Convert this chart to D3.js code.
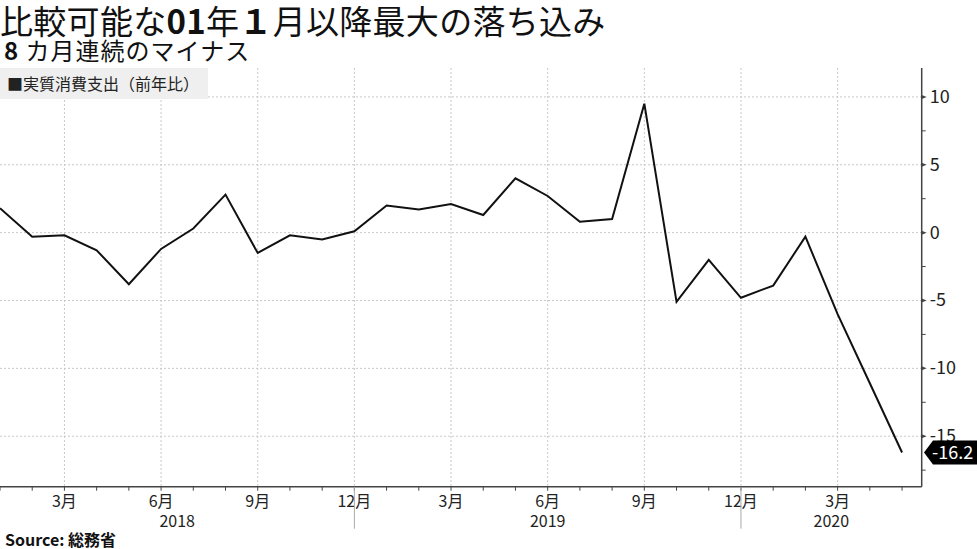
<!DOCTYPE html>
<html><head><meta charset="utf-8">
<script src="https://cdn.jsdelivr.net/npm/d3@7/dist/d3.min.js"></script>
<style>
body{margin:0;background:#fff;}
svg{display:block;font-family:"Noto Sans CJK JP","Noto Sans",sans-serif;}
</style></head>
<body><svg id="c" width="977" height="549"></svg>
<script>
const months = ["2018-01","2018-02","2018-03","2018-04","2018-05","2018-06","2018-07","2018-08","2018-09","2018-10","2018-11","2018-12",
"2019-01","2019-02","2019-03","2019-04","2019-05","2019-06","2019-07","2019-08","2019-09","2019-10","2019-11","2019-12",
"2020-01","2020-02","2020-03","2020-04","2020-05"];
const values = [1.8,-0.3,-0.2,-1.3,-3.8,-1.2,0.3,2.8,-1.5,-0.2,-0.5,0.1,
2.0,1.7,2.1,1.3,4.0,2.7,0.8,1.0,9.5,-5.1,-2.0,-4.8,
-3.9,-0.3,-6.0,-11.1,-16.2];
const monthTickIdx = [2,5,8,11,14,17,20,23,26];
const monthTickLabels = ["3月","6月","9月","12月","3月","6月","9月","12月","3月"];
const yearLabels = ["2018","2019","2020"];
const yearSeparatorIdx = [11,23];
const yTicks = [10,5,0,-5,-10,-15];
const yMinorTicks = [7.5,2.5,-2.5,-7.5,-12.5,-17.5];
const seriesName = "実質消費支出（前年比）";
const lastLabel = "-16.2";

const svg = d3.select("#c");
const L = 0, R = 921.7, T = 68, B = 486.7;
const x = d3.scaleLinear().domain([0, 28.61]).range([L, R]);
const y = d3.scaleLinear().domain([-18.72, 12.13]).range([B, T]);

// title
const title = svg.append("text").attr("x",0).attr("y",34).attr("font-size",33).attr("fill","#111").attr("letter-spacing",0.3);
title.append("tspan").text("比較可能な");
title.append("tspan").attr("font-weight","bold").text("01");
title.append("tspan").text("年");
title.append("tspan").attr("font-weight","bold").text("１");
title.append("tspan").text("月以降最大の落ち込み");
const sub = svg.append("text").attr("x",4).attr("y",60).attr("font-size",24).attr("fill","#111").attr("letter-spacing",1);
sub.append("tspan").attr("font-weight","bold").text("8 ");
sub.append("tspan").text("カ月連続のマイナス");

// grid
const grid = svg.append("g").attr("stroke","#c8c8c8").attr("stroke-width",1).attr("stroke-dasharray","2,2");
grid.selectAll("line.h").data(yTicks).join("line")
  .attr("x1",L).attr("x2",R).attr("y1",d=>y(d)).attr("y2",d=>y(d));
grid.selectAll("line.v").data(monthTickIdx).join("line")
  .attr("x1",d=>x(d)).attr("x2",d=>x(d)).attr("y1",T).attr("y2",B);

// legend
svg.append("rect").attr("x",0).attr("y",68).attr("width",208).attr("height",31).attr("fill","#efefef");
svg.append("text").attr("x",7).attr("y",90).attr("font-size",16).attr("fill","#222").text("■" + seriesName);

// line
const line = d3.line().x((d,i)=>x(i)).y(d=>y(d));
svg.append("path").datum(values).attr("d",line).attr("fill","none").attr("stroke","#111").attr("stroke-width",2).attr("stroke-linejoin","miter");

// y axis (right)
const yAxis = svg.append("g").attr("transform",`translate(${R},0)`);
yAxis.append("line").attr("x1",0).attr("x2",0).attr("y1",T).attr("y2",B).attr("stroke","#444").attr("stroke-width",1.5);
yAxis.selectAll("path.maj").data(yTicks).join("path")
  .attr("d",d=>`M0,${y(d)-2}L5,${y(d)}L0,${y(d)+2}Z`).attr("fill","#444");
yAxis.selectAll("line.min").data(yMinorTicks).join("line")
  .attr("x1",0).attr("x2",4).attr("y1",d=>y(d)).attr("y2",d=>y(d)).attr("stroke","#444");
yAxis.selectAll("text").data(yTicks).join("text")
  .attr("x",8).attr("y",d=>y(d)+6).attr("font-size",18).attr("fill","#222").text(d=>d);

// last value label
const ly = y(values[values.length-1]);
svg.append("path").attr("d",`M924,${ly}L933,${ly-12}L977,${ly-12}L977,${ly+12}L933,${ly+12}Z`).attr("fill","#000");
svg.append("text").attr("x",932).attr("y",ly+7).attr("font-size",18).attr("fill","#fff").text(lastLabel);

// x axis
const xAxis = svg.append("g");
xAxis.append("line").attr("x1",L).attr("x2",R).attr("y1",B).attr("y2",B).attr("stroke","#444").attr("stroke-width",1.5);
xAxis.selectAll("line.t").data(d3.range(months.length)).join("line")
  .attr("x1",d=>x(d)).attr("x2",d=>x(d)).attr("y1",B).attr("y2",B+4).attr("stroke","#444");
xAxis.selectAll("text.m").data(monthTickIdx).join("text")
  .attr("x",d=>x(d)).attr("y",B+20).attr("text-anchor","middle").attr("font-size",16).attr("fill","#222")
  .text((d,i)=>monthTickLabels[i]);
xAxis.selectAll("line.sep").data(yearSeparatorIdx).join("line")
  .attr("x1",d=>x(d)).attr("x2",d=>x(d)).attr("y1",B).attr("y2",B+42).attr("stroke","#aaa");
const bounds = [L, x(yearSeparatorIdx[0]), x(yearSeparatorIdx[1]), R];
xAxis.selectAll("text.y").data(yearLabels).join("text")
  .attr("x",(d,i)=>(bounds[i]+bounds[i+1])/2).attr("y",B+40).attr("text-anchor","middle").attr("font-size",16).attr("fill","#222").text(d=>d);

// source
svg.append("text").attr("x",5).attr("y",546).attr("font-size",16).attr("font-weight","bold").attr("fill","#111").text("Source: 総務省");
</script></body></html>
